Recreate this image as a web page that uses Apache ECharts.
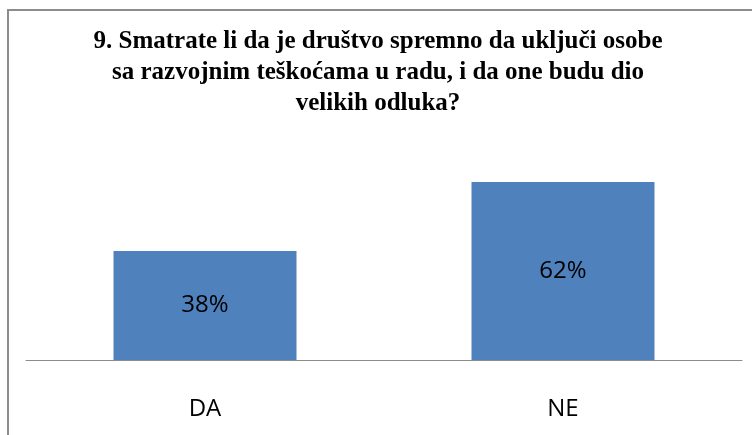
<!DOCTYPE html>
<html>
<head>
<meta charset="utf-8">
<script src="https://cdn.jsdelivr.net/npm/echarts@6/dist/echarts.min.js"></script>
<style>
    html, body { margin: 0; padding: 0; background: #fff; }
    #chart { width: 752px; height: 435px; }
</style>
</head>
<body>
<div id="chart"></div>
<script>
let titleText = '9. Smatrate li da je društvo spremno da uključi osobe\nsa razvojnim teškoćama u radu, i da one budu dio\nvelikih odluka?';
let categories = ['DA', 'NE'];
let values = [38, 62];

// ----------------------------------------------------
let chart = echarts.init(document.getElementById('chart'));
let option = {
    animation: false,
    title: {
        left: 373,
        top: 21,
        textAlign: 'center',
        text: titleText,
        textStyle: {
            fontFamily: 'Liberation Serif',
            fontWeight: 'bold',
            fontSize: 25,
            lineHeight: 31,
            color: '#000'
        }
    },
    graphic: [{
        type: 'rect',
        shape: { x: 8, y: 10, width: 800, height: 500 },
        style: { fill: 'none', stroke: '#8c8c8c', lineWidth: 2 },
        silent: true
    }],
    grid: {
        left: 26,
        right: 10,
        top: 159,
        bottom: 75
    },
    xAxis: {
        type: 'category',
        data: categories,
        axisLine: { lineStyle: { color: '#8c8c8c', width: 1 } },
        axisTick: { show: false },
        axisLabel: {
            margin: 37,
            fontFamily: 'Open Sans',
            fontSize: 24,
            color: '#000'
        }
    },
    yAxis: {
        type: 'value',
        min: 0,
        max: 70,
        show: false,
        splitLine: { show: false }
    },
    series: [{
        type: 'bar',
        data: values,
        barWidth: 183,
        itemStyle: { color: '#4f81bd' },
        label: {
            show: true,
            position: 'inside',
            formatter: '{c}%',
            fontFamily: 'Open Sans',
            fontSize: 24,
            color: '#000'
        }
    }]
};

chart.setOption(option);
</script>
</body>
</html>
